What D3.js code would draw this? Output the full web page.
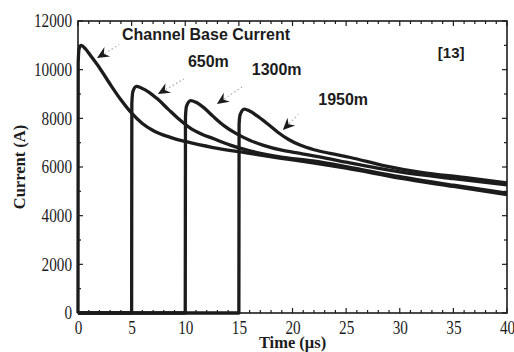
<!DOCTYPE html>
<html><head><meta charset="utf-8">
<script src="https://cdn.jsdelivr.net/npm/d3@7"></script>
<style>body{margin:0;background:#fff}</style>
</head><body><svg id="c" width="514" height="352"></svg>
<script>
// ---- data ----
const xTickValues = [0, 5, 10, 15, 20, 25, 30, 35, 40];
const yTickValues = [0, 2000, 4000, 6000, 8000, 10000, 12000];
const seriesNames = ["Channel Base Current", "650m", "1300m", "1950m"];

const timeBase    = [0, 0.02, 0.1, 0.3, 0.7, 1.2, 2.0, 3.0, 4.0, 5.0, 6.0, 7.0, 8.6, 10.1, 12.6, 15.7, 18.8, 21.9, 25, 30, 35, 40];
const currentBase = [0, 10300, 10850, 11000, 10850, 10560, 10080, 9400, 8760, 8210, 7790, 7500, 7220, 7040, 6800, 6580, 6370, 6170, 5950, 5540, 5200, 4860];

const time650    = [0, 5, 5.02, 5.12, 5.45, 5.9, 6.6, 7.4, 8.4, 9.4, 10.4, 11.5, 12.6, 14.2, 15.7, 18.8, 21.9, 25, 30, 35, 40];
const current650 = [0, 0, 8600, 9100, 9310, 9250, 9080, 8800, 8380, 7970, 7620, 7360, 7170, 6900, 6700, 6420, 6250, 6020, 5600, 5250, 4930];

const time1300    = [0, 10, 10.02, 10.12, 10.5, 11.0, 11.7, 12.6, 13.6, 14.8, 16, 17.3, 19, 20.7, 22.5, 25, 30, 35, 40];
const current1300 = [0, 0, 8050, 8500, 8730, 8660, 8450, 8080, 7700, 7360, 7100, 6890, 6690, 6560, 6420, 6200, 5800, 5520, 5270];

const time1950    = [0, 15, 15.02, 15.12, 15.5, 16.0, 16.7, 17.6, 18.6, 19.6, 20.7, 22, 23.5, 25.4, 28.5, 32, 36, 40];
const current1950 = [0, 0, 7750, 8150, 8380, 8300, 8100, 7800, 7440, 7140, 6900, 6710, 6560, 6390, 6060, 5780, 5570, 5350];

const annotationTexts = ["Channel Base Current", "650m", "1300m", "1950m", "[13]"];

// ---- layout ----
const W = 514, H = 352;
const m = {left: 78, right: 7, top: 21, bottom: 39};
const svg = d3.select("#c");
const x = d3.scaleLinear().domain([0, 40]).range([m.left, W - m.right]);
const y = d3.scaleLinear().domain([0, 12000]).range([H - m.bottom, m.top]);

const ink = "#1c1c1c";
const serif = "'Liberation Serif','Times New Roman',serif";
const sans = "'Liberation Sans',Arial,sans-serif";

// ---- series ----
const series = [
  {t: timeBase, v: currentBase},
  {t: time650, v: current650},
  {t: time1300, v: current1300},
  {t: time1950, v: current1950}
];
const line = d3.line().x(d => x(d[0])).y(d => y(d[1])).curve(d3.curveMonotoneX);
svg.append("g").selectAll("path").data(series).join("path")
  .attr("d", s => line(s.t.map((t, i) => [t, s.v[i]])))
  .attr("fill", "none").attr("stroke", ink).attr("stroke-width", 3.3)
  .attr("stroke-linejoin", "round");

// ---- axes (ticks inward on all four sides) ----
const xMinor = d3.range(0, 41, 1);
const yMinor = d3.range(0, 12001, 1000);
const axG = svg.append("g");
function tickLen(isMajor){ return isMajor ? 5 : 3; }
xMinor.forEach(v => {
  const L = tickLen(v % 5 === 0);
  axG.append("line").attr("x1", x(v)).attr("x2", x(v)).attr("y1", y(0)).attr("y2", y(0) - L);
  axG.append("line").attr("x1", x(v)).attr("x2", x(v)).attr("y1", y(12000)).attr("y2", y(12000) + L);
});
yMinor.forEach(v => {
  const L = tickLen(v % 2000 === 0);
  axG.append("line").attr("x1", x(0)).attr("x2", x(0) + L).attr("y1", y(v)).attr("y2", y(v));
  axG.append("line").attr("x1", x(40)).attr("x2", x(40) - L).attr("y1", y(v)).attr("y2", y(v));
});
axG.selectAll("line").attr("stroke", ink).attr("stroke-width", 1.2);
axG.append("rect").attr("x", x(0)).attr("y", y(12000)).attr("width", x(40) - x(0)).attr("height", y(0) - y(12000))
  .attr("fill", "none").attr("stroke", ink).attr("stroke-width", 1.6);

// tick labels via d3 axes (tick lines hidden; drawn above)
const xAxis = svg.append("g").attr("transform", `translate(0,${y(0)})`)
  .call(d3.axisBottom(x).tickValues(xTickValues).tickSize(0).tickPadding(8).tickFormat(d3.format("d")));
const yAxis = svg.append("g").attr("transform", `translate(${x(0)},0)`)
  .call(d3.axisLeft(y).tickValues(yTickValues).tickSize(0).tickPadding(6).tickFormat(d3.format("d")));
[xAxis, yAxis].forEach(g => {
  g.select(".domain").remove();
  g.selectAll("text").attr("font-family", serif).attr("font-size", 18).attr("fill", ink);
  g.selectAll(".tick").each(function(d){
    d3.select(this).select("text")
      .attr("textLength", String(d).length * 7.6).attr("lengthAdjust", "spacingAndGlyphs");
  });
});

// axis titles
svg.append("text").attr("x", (x(0) + x(40)) / 2).attr("y", 348)
  .attr("text-anchor", "middle").attr("font-family", serif).attr("font-weight", "bold")
  .attr("font-size", 16.5).attr("fill", ink).text("Time (\u03bcs)");
svg.append("text").attr("transform", `translate(25,${(y(0) + y(12000)) / 2}) rotate(-90)`)
  .attr("text-anchor", "middle").attr("font-family", serif).attr("font-weight", "bold")
  .attr("font-size", 16.5).attr("fill", ink).text("Current (A)");

// ---- annotations ----
const annG = svg.append("g").attr("font-family", sans).attr("font-weight", "bold").attr("fill", ink);
annG.append("text").attr("x", x(4.1)).attr("y", y(11230)).attr("font-size", 16).text(annotationTexts[0]);
annG.append("text").attr("x", x(10.25)).attr("y", y(10100)).attr("font-size", 16).text(annotationTexts[1]);
annG.append("text").attr("x", x(16.2)).attr("y", y(9780)).attr("font-size", 16).text(annotationTexts[2]);
annG.append("text").attr("x", x(22.4)).attr("y", y(8560)).attr("font-size", 16).text(annotationTexts[3]);
annG.append("text").attr("x", x(33.55)).attr("y", y(10480)).attr("font-size", 15).text(annotationTexts[4]);

// arrows: tip in data coords, shaft angle (deg), shaft length
const arrows = [
  {t: 1.77, v: 10480, a: -31, len: 26},
  {t: 7.45, v: 9000, a: -30, len: 30},
  {t: 12.95, v: 8590, a: -34, len: 32},
  {t: 19.1, v: 7520, a: -45, len: 22}
];
const arrG = svg.append("g");
arrows.forEach(ar => {
  const g = arrG.append("g").attr("transform", `translate(${x(ar.t)},${y(ar.v)}) rotate(${ar.a})`);
  g.append("line").attr("x1", 9).attr("x2", ar.len).attr("y1", 0).attr("y2", 0)
    .attr("stroke", "#a0a0a0").attr("stroke-width", 1).attr("stroke-dasharray", "1.5,2.5");
  g.append("path").attr("d", "M0,0 L12,-5.5 L8,0 L12,5.5 Z").attr("fill", ink);
});
</script>
</body></html>
